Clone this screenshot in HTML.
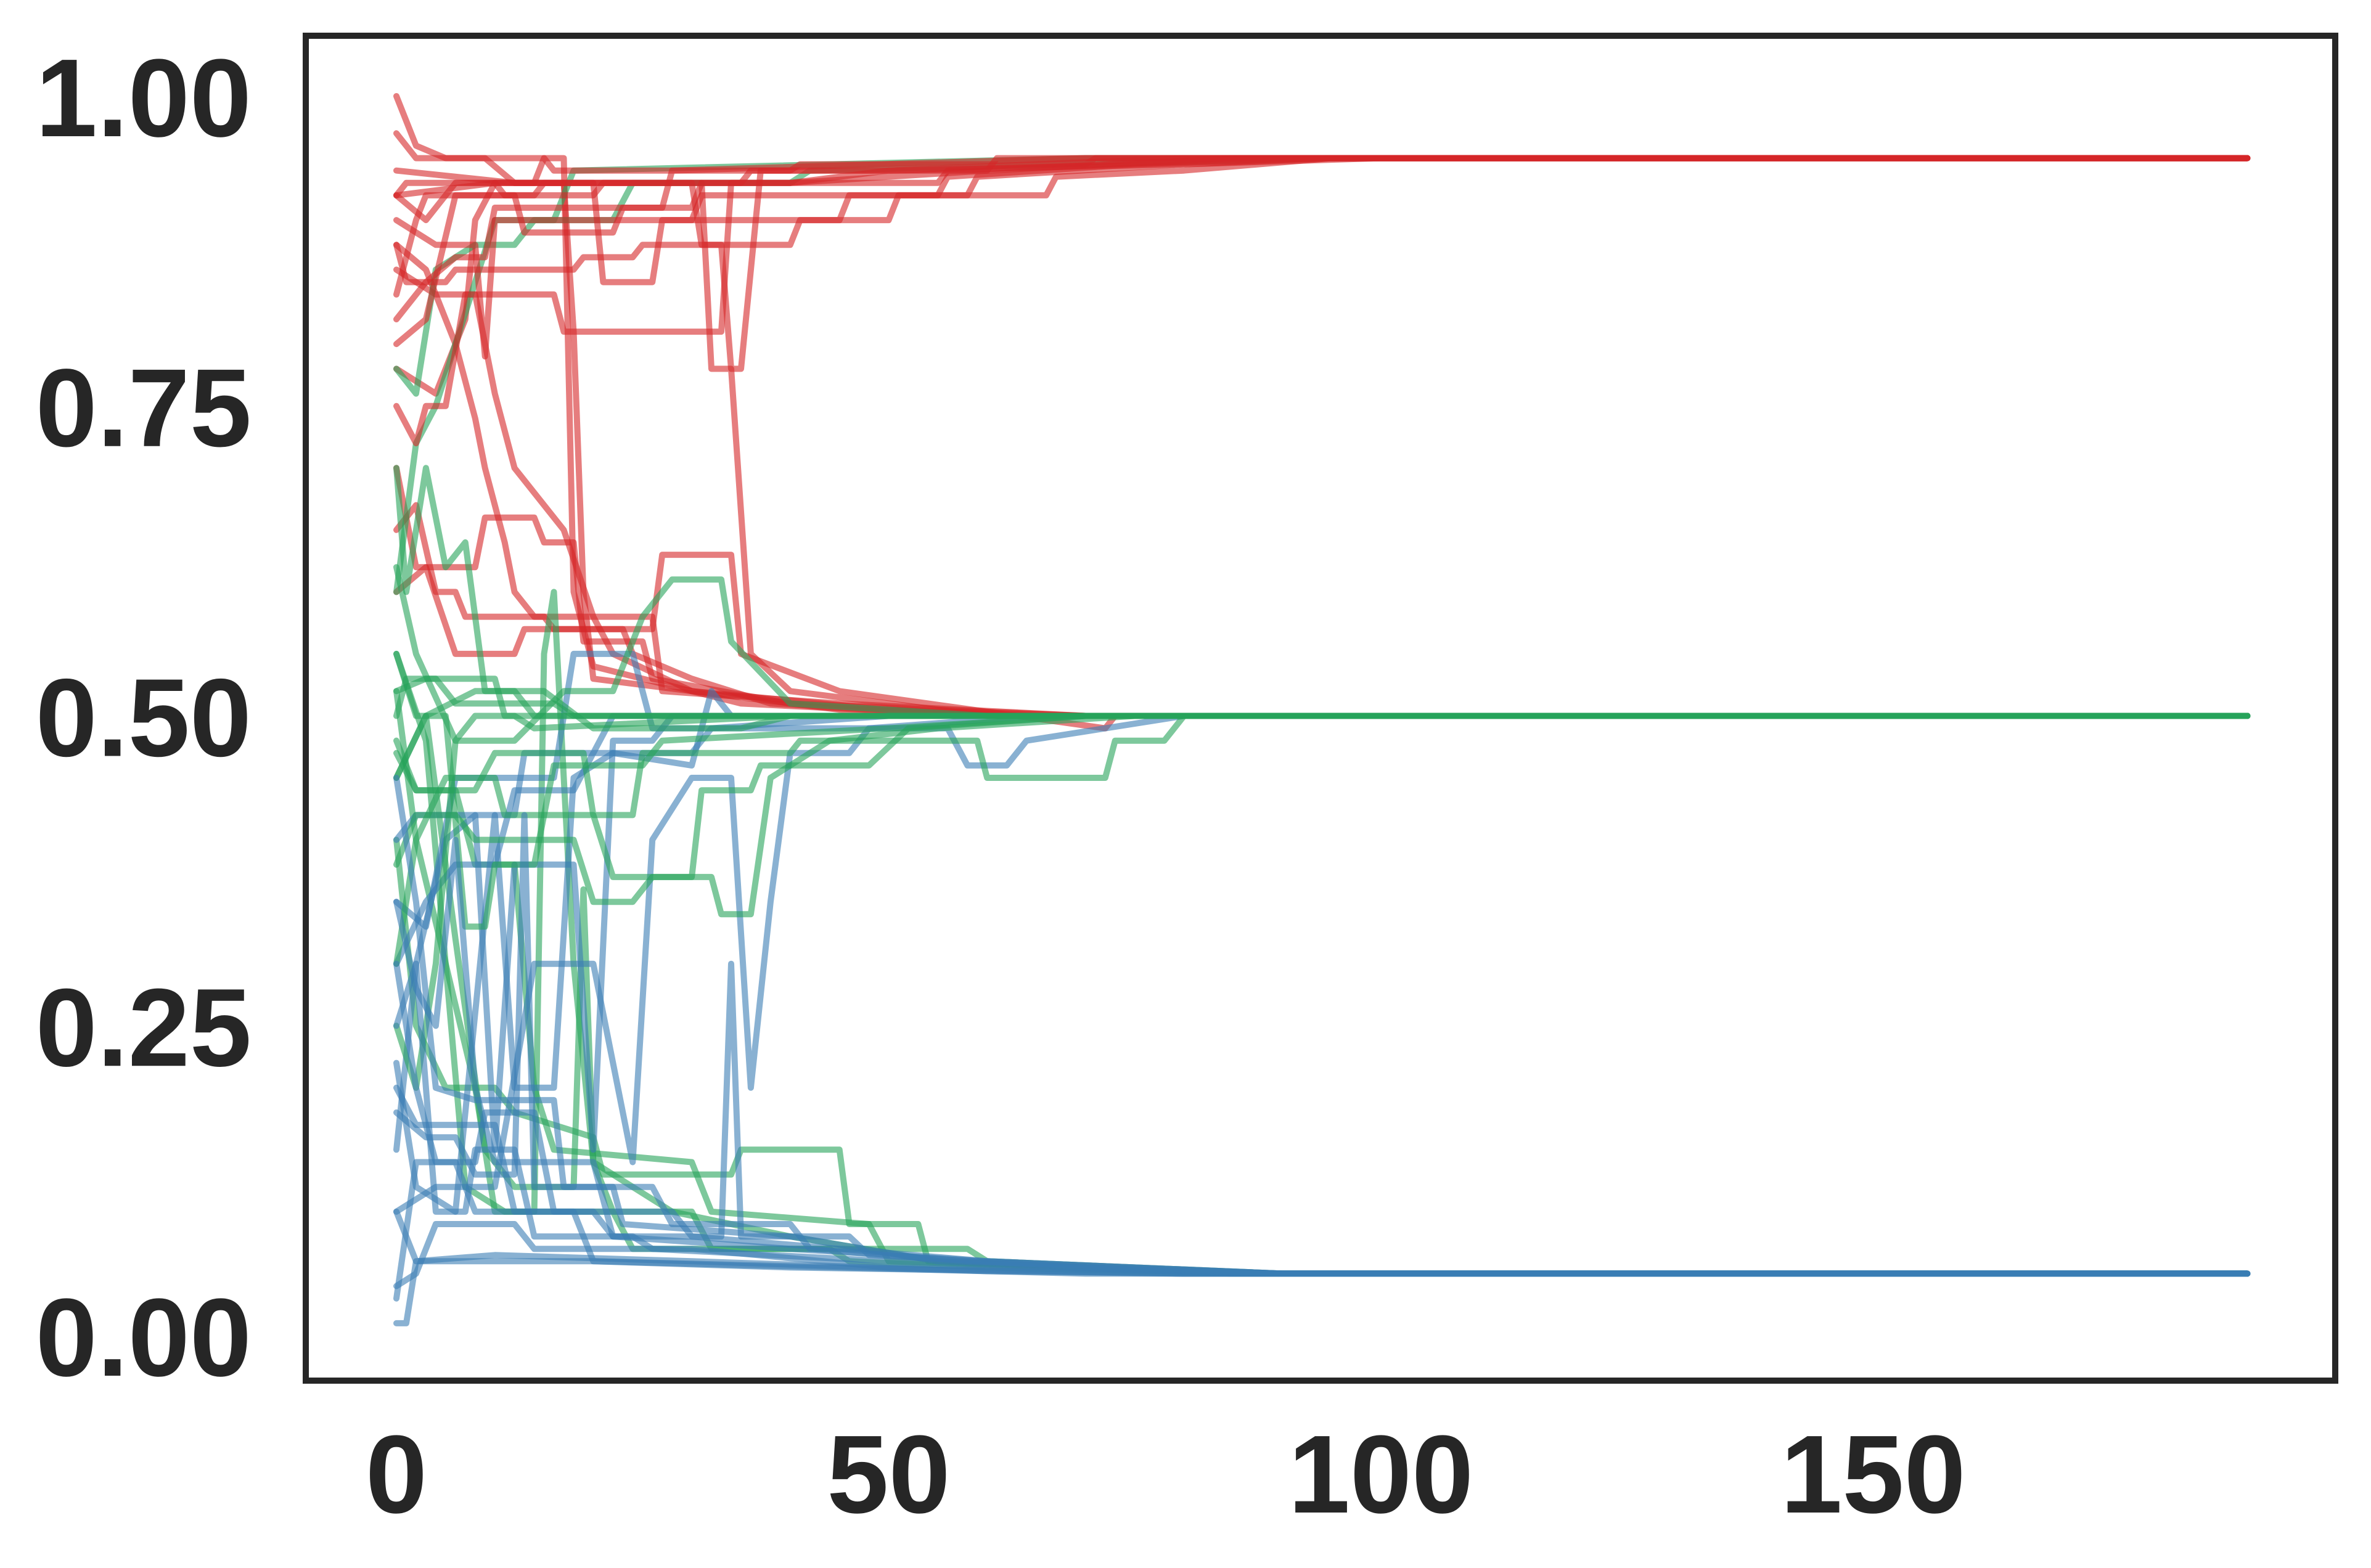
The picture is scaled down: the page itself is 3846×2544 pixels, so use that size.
<!DOCTYPE html>
<html><head><meta charset="utf-8">
<style>html,body{margin:0;padding:0;background:#fff;}svg{display:block;}</style>
</head><body>
<svg id="chart" width="3846" height="2544" viewBox="0 0 3846 2544" xmlns="http://www.w3.org/2000/svg">
<rect x="0" y="0" width="3846" height="2544" fill="#fff"/>
<g id="lines"></g>
<rect x="496" y="58" width="3292" height="2182" fill="none" stroke="#262626" stroke-width="10"/>
<g id="yticks" font-family="Liberation Sans, sans-serif" font-weight="bold" font-size="180" fill="#262626" text-anchor="end"></g>
<g id="xticks" font-family="Liberation Sans, sans-serif" font-weight="bold" font-size="180" fill="#262626" text-anchor="middle"></g>
</svg>
<script>
const xTickValues = [0, 50, 100, 150];
const xTickLabels = ["0", "50", "100", "150"];
const yTickValues = [0, 0.25, 0.5, 0.75, 1.0];
const yTickLabels = ["0.00", "0.25", "0.50", "0.75", "1.00"];

const redSeries = [
[0,0.97, 2,0.95, 5,0.95, 15,0.95, 16,0.94, 40,0.94, 41,0.945, 70,0.945, 71,0.95, 188,0.95],
[0,0.92, 1,0.93, 10,0.93, 11,0.92, 20,0.92, 21,0.93, 35,0.93, 36,0.94, 60,0.94, 61,0.95, 188,0.95],
[0,0.84, 2,0.9, 3,0.92, 14,0.92, 15,0.93, 40,0.93, 50,0.94, 80,0.945, 100,0.95, 188,0.95],
[0,0.8, 3,0.82, 6,0.92, 12,0.92, 13,0.89, 22,0.89, 23,0.91, 30,0.91, 31,0.93, 55,0.93, 56,0.94, 90,0.95, 188,0.95],
[0,0.88, 1,0.85, 5,0.85, 6,0.86, 18,0.86, 19,0.87, 24,0.87, 25,0.88, 40,0.88, 41,0.9, 50,0.9, 51,0.92, 66,0.92, 67,0.935, 80,0.94, 95,0.95, 188,0.95],
[0,0.75, 2,0.72, 3,0.75, 5,0.75, 7,0.84, 16,0.84, 17,0.81, 33,0.81, 34,0.93, 40,0.93, 60,0.94, 85,0.95, 188,0.95],
[0,0.92, 3,0.9, 6,0.93, 20,0.93, 21,0.85, 26,0.85, 27,0.9, 45,0.9, 46,0.92, 58,0.92, 59,0.935, 80,0.945, 95,0.95, 188,0.95],
[0,0.82, 3,0.85, 6,0.87, 9,0.87, 10,0.91, 27,0.91, 28,0.94, 70,0.95, 188,0.95],
[0,1.0, 2,0.96, 5,0.95, 9,0.95, 12,0.93, 30,0.93, 31,0.88, 33,0.88, 34,0.78, 35,0.78, 37,0.94, 50,0.94, 80,0.95, 188,0.95],
[0,0.9, 4,0.88, 8,0.88, 9,0.79, 10,0.9, 30,0.9, 31,0.92, 55,0.92, 56,0.935, 75,0.945, 95,0.95, 188,0.95],
[0,0.65, 2,0.67, 4,0.6, 6,0.6, 7,0.58, 15,0.58, 16,0.57, 23,0.57, 24,0.55, 30,0.53, 38,0.51, 60,0.5, 188,0.5],
[0,0.7, 2,0.62, 8,0.62, 9,0.66, 14,0.66, 15,0.64, 18,0.64, 19,0.56, 25,0.56, 26,0.53, 40,0.51, 70,0.5, 188,0.5],
[0,0.86, 4,0.84, 8,0.84, 10,0.76, 12,0.7, 17,0.65, 20,0.58, 22,0.55, 30,0.52, 50,0.505, 70,0.5, 188,0.5],
[0,0.92, 10,0.93, 17,0.93, 18,0.81, 19,0.6, 20,0.53, 30,0.52, 45,0.505, 65,0.5, 188,0.5],
[0,0.94, 12,0.93, 25,0.93, 31,0.93, 32,0.78, 34,0.78, 36,0.55, 40,0.52, 60,0.5, 188,0.5],
[0,0.6, 3,0.62, 6,0.55, 12,0.55, 13,0.57, 26,0.57, 27,0.63, 34,0.63, 35,0.55, 45,0.52, 72,0.49, 73,0.5, 188,0.5],
[0,0.88, 3,0.86, 6,0.8, 8,0.74, 9,0.7, 11,0.64, 12,0.6, 14,0.58, 26,0.58, 27,0.52, 45,0.51, 70,0.5, 188,0.5],
[0,0.78, 4,0.76, 7,0.82, 8,0.9, 10,0.93, 14,0.93, 15,0.95, 17,0.95, 18,0.6, 20,0.54, 35,0.51, 60,0.5, 188,0.5]
];
const greenSeries = [
[0,0.52, 3,0.53, 10,0.53, 11,0.5, 30,0.5, 188,0.5],
[0,0.45, 3,0.5, 8,0.52, 15,0.52, 20,0.49, 35,0.49, 40,0.5, 188,0.5],
[0,0.62, 2,0.55, 6,0.48, 12,0.48, 17,0.52, 22,0.52, 25,0.58, 28,0.61, 33,0.61, 34,0.56, 40,0.51, 60,0.5, 188,0.5],
[0,0.3, 2,0.4, 5,0.45, 10,0.45, 11,0.42, 20,0.42, 22,0.37, 32,0.37, 33,0.34, 36,0.34, 38,0.45, 44,0.48, 55,0.49, 75,0.5, 188,0.5],
[0,0.47, 2,0.44, 8,0.44, 10,0.47, 19,0.47, 20,0.42, 24,0.42, 25,0.47, 40,0.47, 41,0.48, 59,0.48, 60,0.45, 72,0.45, 73,0.48, 78,0.48, 80,0.5, 188,0.5],
[0,0.55, 2,0.5, 5,0.5, 7,0.33, 9,0.33, 10,0.38, 14,0.38, 16,0.46, 25,0.46, 27,0.48, 50,0.49, 70,0.5, 188,0.5],
[0,0.7, 1,0.6, 3,0.7, 5,0.62, 7,0.64, 9,0.52, 12,0.52, 14,0.5, 188,0.5],
[0,0.38, 2,0.42, 6,0.42, 8,0.4, 18,0.4, 20,0.35, 24,0.35, 26,0.37, 30,0.37, 31,0.44, 36,0.44, 37,0.46, 48,0.46, 52,0.49, 70,0.5, 188,0.5],
[0,0.5, 1,0.53, 4,0.53, 6,0.51, 16,0.51, 18,0.5, 188,0.5],
[0,0.25, 2,0.2, 4,0.3, 6,0.48, 8,0.5, 12,0.5, 14,0.49, 40,0.5, 188,0.5],
[0,0.78, 2,0.76, 4,0.86, 8,0.88, 12,0.88, 14,0.9, 22,0.9, 24,0.93, 40,0.93, 42,0.94, 70,0.945, 95,0.95, 188,0.95],
[0,0.6, 2,0.72, 4,0.75, 6,0.8, 10,0.9, 16,0.9, 18,0.94, 70,0.95, 188,0.95],
[0,0.52, 2,0.4, 5,0.3, 8,0.2, 10,0.1, 14,0.1, 15,0.55, 16,0.6, 18,0.3, 20,0.14, 22,0.1, 30,0.1, 32,0.07, 44,0.07, 46,0.06, 60,0.055, 85,0.05, 188,0.05],
[0,0.4, 2,0.25, 5,0.2, 10,0.2, 12,0.18, 20,0.16, 21,0.13, 34,0.13, 35,0.15, 45,0.15, 46,0.09, 53,0.09, 54,0.06, 70,0.055, 90,0.05, 188,0.05],
[0,0.45, 3,0.5, 6,0.32, 9,0.15, 12,0.12, 18,0.12, 19,0.36, 20,0.14, 28,0.1, 40,0.08, 55,0.06, 85,0.05, 188,0.05],
[0,0.55, 3,0.48, 7,0.12, 11,0.1, 22,0.1, 24,0.07, 58,0.07, 60,0.06, 90,0.05, 188,0.05],
[0,0.48, 2,0.44, 6,0.44, 8,0.38, 12,0.38, 14,0.2, 16,0.15, 30,0.14, 32,0.1, 48,0.09, 50,0.06, 85,0.05, 188,0.05]
];
const blueSeries = [
[0,0.1, 2,0.06, 20,0.06, 40,0.055, 80,0.05, 188,0.05],
[0,0.01, 1,0.01, 2,0.06, 10,0.065, 30,0.06, 60,0.052, 80,0.05, 188,0.05],
[0,0.3, 2,0.2, 4,0.14, 8,0.14, 9,0.18, 14,0.18, 16,0.1, 28,0.1, 30,0.08, 45,0.07, 60,0.06, 90,0.05, 188,0.05],
[0,0.25, 2,0.3, 4,0.1, 7,0.1, 8,0.15, 12,0.15, 14,0.08, 24,0.08, 26,0.07, 50,0.06, 85,0.05, 188,0.05],
[0,0.18, 3,0.16, 6,0.16, 8,0.13, 12,0.13, 13,0.42, 14,0.12, 22,0.12, 23,0.09, 40,0.08, 55,0.06, 85,0.05, 188,0.05],
[0,0.35, 2,0.28, 4,0.25, 6,0.4, 8,0.2, 10,0.14, 20,0.14, 22,0.08, 40,0.07, 60,0.06, 90,0.05, 188,0.05],
[0,0.04, 2,0.05, 4,0.09, 12,0.09, 14,0.07, 30,0.07, 50,0.055, 80,0.05, 188,0.05],
[0,0.2, 2,0.17, 10,0.17, 12,0.1, 18,0.1, 20,0.06, 70,0.05, 188,0.05],
[0,0.45, 2,0.35, 4,0.2, 8,0.19, 16,0.19, 17,0.12, 26,0.12, 28,0.09, 40,0.09, 42,0.07, 58,0.06, 90,0.05, 188,0.05],
[0,0.03, 2,0.14, 6,0.14, 8,0.1, 20,0.1, 22,0.08, 33,0.08, 34,0.3, 35,0.08, 46,0.08, 48,0.065, 70,0.055, 90,0.05, 188,0.05],
[0,0.15, 2,0.3, 5,0.4, 8,0.42, 12,0.42, 13,0.47, 20,0.47, 22,0.5, 188,0.5],
[0,0.3, 3,0.35, 6,0.38, 10,0.38, 12,0.44, 18,0.44, 20,0.47, 30,0.47, 32,0.49, 50,0.5, 188,0.5],
[0,0.22, 2,0.12, 6,0.1, 10,0.42, 12,0.2, 16,0.2, 18,0.45, 22,0.47, 30,0.46, 32,0.52, 34,0.5, 188,0.5],
[0,0.4, 2,0.42, 8,0.42, 10,0.15, 12,0.38, 18,0.38, 20,0.15, 22,0.48, 26,0.48, 28,0.5, 188,0.5],
[0,0.1, 4,0.12, 10,0.12, 14,0.3, 20,0.3, 24,0.14, 26,0.4, 30,0.45, 34,0.45, 36,0.2, 38,0.35, 40,0.47, 46,0.47, 48,0.49, 65,0.5, 188,0.5],
[0,0.35, 3,0.33, 6,0.45, 16,0.45, 18,0.55, 24,0.55, 26,0.49, 56,0.49, 58,0.46, 62,0.46, 64,0.48, 80,0.5, 188,0.5]
];

const NS = "http://www.w3.org/2000/svg";
function xScale(v){ return 643 + v * 15.97; }
function yScale(v){ return 2167 - v * 2011; }

const linesG = document.getElementById('lines');
const RED = '#d62728', GREEN = '#27a35a', BLUE = '#3a7db4';
function dominantColor(finalVal){
  if (finalVal > 0.75) return RED;
  if (finalVal > 0.25) return GREEN;
  return BLUE;
}
const items = [];
redSeries.forEach(function(a, i){ items.push({arr: a, color: RED, name: 'red-series-' + i}); });
greenSeries.forEach(function(a, i){ items.push({arr: a, color: GREEN, name: 'green-series-' + i}); });
blueSeries.forEach(function(a, i){ items.push({arr: a, color: BLUE, name: 'blue-series-' + i}); });
const passes = [
  items.filter(function(it){ return dominantColor(it.arr[it.arr.length - 1]) !== it.color; }),
  items.filter(function(it){ return dominantColor(it.arr[it.arr.length - 1]) === it.color; })
];
passes.forEach(function(list){
  list.forEach(function(it){
    const arr = it.arr;
    let d = "";
    for (let k = 0; k < arr.length; k += 2){
      d += (k === 0 ? "M" : "L") + xScale(arr[k]).toFixed(1) + "," + yScale(arr[k+1]).toFixed(1);
    }
    const p = document.createElementNS(NS, 'path');
    p.setAttribute('d', d);
    p.setAttribute('fill', 'none');
    p.setAttribute('stroke', it.color);
    p.setAttribute('stroke-width', '10');
    p.setAttribute('stroke-opacity', '0.6');
    p.setAttribute('stroke-linejoin', 'round');
    p.setAttribute('stroke-linecap', 'round');
    
    
    linesG.appendChild(p);
  });
});

const yG = document.getElementById('yticks');
yTickValues.forEach(function(v, i){
  const t = document.createElementNS(NS, 'text');
  t.setAttribute('x', 408);
  t.setAttribute('y', yScale(v) + 65);
  t.textContent = yTickLabels[i];
  
  
  yG.appendChild(t);
});
const xG = document.getElementById('xticks');
xTickValues.forEach(function(v, i){
  const t = document.createElementNS(NS, 'text');
  t.setAttribute('x', xScale(v));
  t.setAttribute('y', 2454);
  t.textContent = xTickLabels[i];
  
  
  xG.appendChild(t);
});
</script>
</body></html>
